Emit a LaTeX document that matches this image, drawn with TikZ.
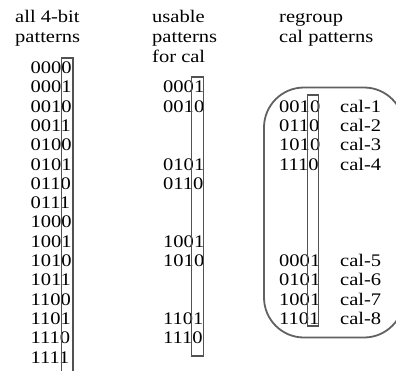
\documentclass[tikz,border=0pt]{standalone}
\usepackage{fontspec}
\setmainfont{Liberation Serif}[FakeStretch=1.16]
\begin{document}
\begin{tikzpicture}[x=1pt,y=-1pt,
  txt/.style={anchor=base west,inner sep=0pt,font=\fontsize{17.7}{20}\selectfont},
  colbox/.style={draw=black!68,line width=1.5pt},
  grpbox/.style={draw=black!62,line width=1.8pt,rounded corners=40pt}]
\clip (0,0) rectangle (396,370);
\useasboundingbox (0,0) rectangle (396,370);
% titles
\node[txt] (t1a) at (15,22.5) {all 4-bit};
\node[txt] (t1b) at (15,42.3) {patterns};
\node[txt] (t2a) at (152,22.5) {usable};
\node[txt] (t2b) at (152,42.3) {patterns};
\node[txt] (t2c) at (152,62) {for cal};
\node[txt] (t3a) at (279,22.5) {regroup};
\node[txt] (t3b) at (279,42.3) {cal patterns};
% column 1
\foreach \p [count=\k from 0] in {0000,0001,0010,0011,0100,0101,0110,0111,1000,1001,1010,1011,1100,1101,1110,1111}
  \node[txt] (a\k) at (30.5,73.5+19.3*\k) {\p};
% column 2
\foreach \p/\k in {0001/1,0010/2,0101/5,0110/6,1001/9,1010/10,1101/13,1110/14}
  \node[txt] (b\k) at (163,73.5+19.3*\k) {\p};
% column 3
\foreach \p/\c/\k in {0010/cal-1/2,0110/cal-2/3,1010/cal-3/4,1110/cal-4/5,0001/cal-5/10,0101/cal-6/11,1001/cal-7/12,1101/cal-8/13}{
  \node[txt] (c\k) at (279,73.5+19.3*\k) {\p};
  \node[txt] (l\k) at (340,73.5+19.3*\k) {\c};
}
% boxes
\draw[colbox] (61.7,58) rectangle (73,385);
\draw[colbox] (191.7,77) rectangle (203.5,356);
\draw[colbox] (307.5,95) rectangle (318.5,326);
\draw[grpbox] (264,87.5) rectangle (404,337.5);
\end{tikzpicture}
\end{document}
